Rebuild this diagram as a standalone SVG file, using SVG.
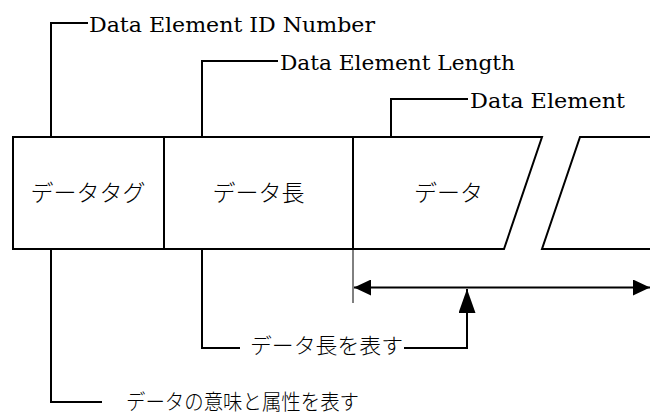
<svg xmlns="http://www.w3.org/2000/svg" width="650" height="414" viewBox="0 0 650 414">
  <defs>
    <style>
      .box { fill: #fff; stroke: #000; stroke-width: 2; }
      .ln { fill: none; stroke: #000; stroke-width: 2; }
      .thin { fill: none; stroke: #000; stroke-width: 1; }
      .en { font-family: "DejaVu Serif", "Liberation Serif", serif; font-size: 21px; fill: #000; }
      .jp { font-family: "Noto Sans CJK JP", sans-serif; font-size: 23px; fill: #000; font-weight: 300; }
      .jps { font-family: "Noto Sans CJK JP", sans-serif; font-size: 21px; fill: #000; font-weight: 300; }
    </style>
    <marker id="ah" viewBox="0 0 17 16" refX="17" refY="8" markerWidth="17" markerHeight="16" markerUnits="userSpaceOnUse" orient="auto-start-reverse">
      <path d="M0,0 L17,8 L0,16 Z" fill="#000"/>
    </marker>
    <marker id="ahu" viewBox="0 0 24 17" refX="24" refY="8.5" markerWidth="24" markerHeight="17" markerUnits="userSpaceOnUse" orient="auto">
      <path d="M0,0 L24,8.5 L0,17 Z" fill="#000"/>
    </marker>
  </defs>
  <rect width="650" height="414" fill="#fff"/>

  <g id="node-tag">
    <rect class="box" x="13" y="137" width="151" height="112"/>
    <text class="jp" x="88" y="201" text-anchor="middle">データタグ</text>
  </g>
  <g id="node-length">
    <rect class="box" x="164" y="137" width="189" height="112"/>
    <text class="jp" x="258.5" y="201" text-anchor="middle">データ長</text>
  </g>
  <g id="node-data">
    <path class="ln" d="M353,137 L542,137 L504,249 L353,249"/>
    <line class="thin" x1="353" y1="137" x2="353" y2="249"/>
    <text class="jp" x="448.5" y="201" text-anchor="middle">データ</text>
  </g>
  <g id="node-data2">
    <path class="ln" d="M652,137 L580,137 L542,249 L652,249"/>
  </g>

  <g id="label-id">
    <text class="en" x="89" y="31.5" textLength="286" lengthAdjust="spacingAndGlyphs">Data Element ID Number</text>
  </g>
  <g id="label-len">
    <text class="en" x="280" y="69.5" textLength="235" lengthAdjust="spacingAndGlyphs">Data Element Length</text>
  </g>
  <g id="label-elem">
    <text class="en" x="470" y="107.5" textLength="155" lengthAdjust="spacingAndGlyphs">Data Element</text>
  </g>
  <g id="label-len-jp">
    <text class="jps" x="250" y="353" textLength="153" lengthAdjust="spacingAndGlyphs">データ長を表す</text>
  </g>
  <g id="label-tag-jp">
    <text class="jps" x="126" y="409" textLength="233" lengthAdjust="spacingAndGlyphs">データの意味と属性を表す</text>
  </g>

  <g id="connectors">
    <polyline class="ln" points="51,137 51,23 88,23"/>
    <polyline class="ln" points="202,137 202,61 278,61"/>
    <polyline class="ln" points="391,137 391,99 468,99"/>
    <polyline class="ln" points="51,249 51,402 102,402"/>
    <polyline class="ln" points="202,249 202,348 240,348"/>
    <polyline class="ln" points="404,348 467,348 467,289"/>
    <line class="ln" x1="467" y1="348" x2="467" y2="289" marker-end="url(#ahu)"/>
    <line class="thin" x1="353" y1="249" x2="353" y2="303"/>
    <line class="ln" x1="354" y1="287.5" x2="650" y2="287.5" marker-start="url(#ah)" marker-end="url(#ah)"/>
  </g>
</svg>
